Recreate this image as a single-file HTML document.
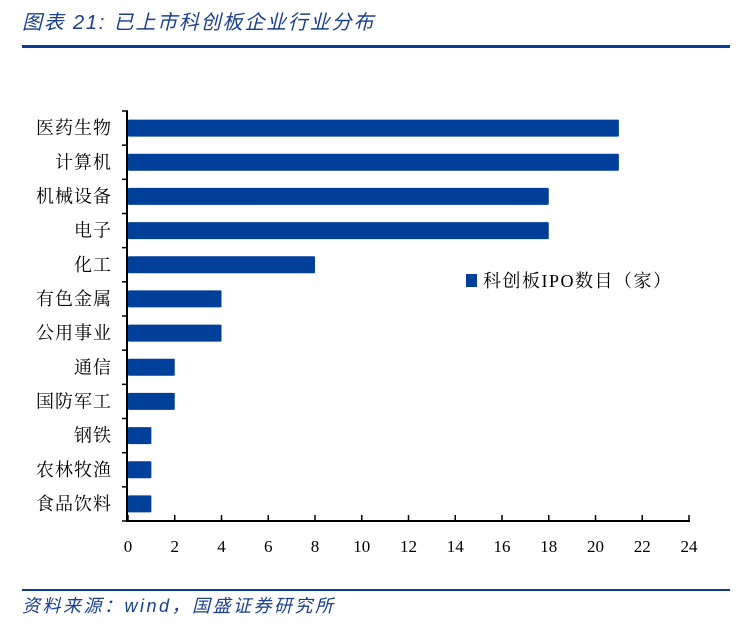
<!DOCTYPE html>
<html><head><meta charset="utf-8"><style>
body{margin:0;background:#fff;width:749px;height:635px;overflow:hidden;font-family:"Liberation Serif","Noto Serif CJK SC",serif;}
</style></head><body>
<svg width="749" height="635">
<text x="22" y="29" font-size="20" font-style="italic" letter-spacing="1.8" fill="#1a3f8f" font-family="Liberation Sans,Noto Sans CJK SC,sans-serif">图表 21:  已上市科创板企业行业分布</text>
<rect x="22" y="45" width="708" height="3" fill="#0a3d94"/>
<g id="plot"></g>
<rect x="22" y="589" width="708" height="2" fill="#0a3d94"/>
<text x="22" y="612" font-size="18" font-style="italic" letter-spacing="2.5" fill="#1a3f8f" font-family="Liberation Sans,Noto Sans CJK SC,sans-serif">资料来源：wind，国盛证券研究所</text>
<rect x="466" y="274" width="11" height="13" fill="#003f9a"/>
<text x="483" y="287" font-size="18" letter-spacing="1.5" fill="#000">科创板IPO数目（家）</text>
</svg>
<script>
const categories=["医药生物","计算机","机械设备","电子","化工","有色金属","公用事业","通信","国防军工","钢铁","农林牧渔","食品饮料"];
const values=[21,21,18,18,8,4,4,2,2,1,1,1];
const ticks=[0,2,4,6,8,10,12,14,16,18,20,22,24];
const ns="http://www.w3.org/2000/svg";
const plotG=document.getElementById('plot');
const x0=128,x1=689,plotTop=111,plotBottom=521;
const xs=v=>x0+(v-0)/(24-0)*(x1-x0);
const band=(plotBottom-plotTop)/categories.length;
function mk(t,a){const e=document.createElementNS(ns,t);for(const k in a)e.setAttribute(k,a[k]);plotG.appendChild(e);return e;}
categories.forEach((c,i)=>{
 const yc=plotTop+band*(i+0.5);
 const r=mk('rect',{x:x0,y:yc-8.5,width:xs(values[i])-x0,height:17,fill:'#003f9a',rx:1});
 
 
 const t=mk('text',{x:112,y:yc+6,'font-size':18,'letter-spacing':1,'text-anchor':'end',fill:'#000'});
 t.textContent=c;
 
 
});
for(let i=0;i<=categories.length;i++){
 const y=plotTop+band*i;
 const tk=mk('line',{x1:122,x2:128,y1:y,y2:y,stroke:'#000','stroke-width':1.5});
 
 
}
const ya=mk('line',{x1:127,x2:127,y1:plotTop,y2:plotBottom+1,stroke:'#000','stroke-width':2});


const xa=mk('line',{x1:126,x2:690,y1:plotBottom,y2:plotBottom,stroke:'#000','stroke-width':2});


ticks.forEach(v=>{
 const x=xs(v);
 const l=mk('line',{x1:x,x2:x,y1:plotBottom-6,y2:plotBottom,stroke:'#000','stroke-width':1.5});
 
 
 const t=mk('text',{x:x,y:552,'font-size':17,'text-anchor':'middle',fill:'#000'});
 t.textContent=v;
 
 
});
</script>
</body></html>
